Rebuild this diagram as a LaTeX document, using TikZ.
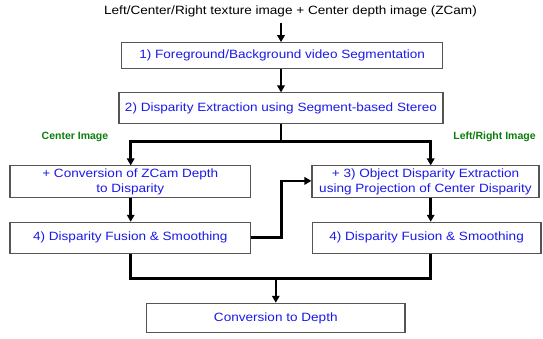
\documentclass[tikz,border=0pt]{standalone}
\usepackage{fontspec}
\setmainfont{Liberation Sans}
\newfontfamily\wfont[FakeStretch=1.13]{Liberation Sans}
\usetikzlibrary{arrows.meta,calc}
\definecolor{txtblue}{RGB}{25,25,235}
\definecolor{lblgreen}{RGB}{10,125,10}
\definecolor{frame}{RGB}{85,85,85}
\tikzset{
  stage/.style={draw=frame, line width=1.1pt, rectangle, inner sep=0pt,
    text=txtblue, font=\wfont\fontsize{12}{15.7}\selectfont, align=center},
  flow/.style={line width=2.6pt, line join=miter,
    -{Triangle[width=7.5pt,length=7pt]}},
  plainflow/.style={line width=2.6pt, line join=miter},
  sidelabel/.style={text=lblgreen, font=\bfseries\fontsize{10.5}{12}\selectfont, inner sep=0pt}
}
\begin{document}
\begin{tikzpicture}[x=1pt,y=-1pt]
\useasboundingbox (0,0) rectangle (543,339);

% input description
\node[font=\wfont\fontsize{12}{14}\selectfont, inner sep=0pt] (title) at (290.5,11)
  {Left/Center/Right texture image + Center depth image (ZCam)};

% processing stages
\node[stage, minimum width=321pt, minimum height=25.6pt] (seg) at (282.2,55.5)
  {1) Foreground/Background video Segmentation};
\node[stage, minimum width=324pt, minimum height=30.5pt] (disp) at (281,108.2)
  {2) Disparity Extraction using Segment-based Stereo};
\node[stage, minimum width=240.7pt, minimum height=31.7pt] (conv) at (130.3,181.8)
  {+ Conversion of ZCam Depth\\to Disparity};
\node[stage, minimum width=227pt, minimum height=31.7pt] (obj) at (425.5,181.8)
  {+ 3) Object Disparity Extraction\\using Projection of Center Disparity};
\node[stage, minimum width=240.7pt, minimum height=31pt] (fuseC) at (130.3,237.8)
  {4) Disparity Fusion \& Smoothing};
\node[stage, minimum width=228.7pt, minimum height=31pt] (fuseLR) at (426.6,237.8)
  {4) Disparity Fusion \& Smoothing};
\node[stage, minimum width=258.3pt, minimum height=29.4pt] (depth) at (275.8,318)
  {Conversion to Depth};

% branch labels
\node[sidelabel] (lc) at (75,137) {Center Image};
\node[sidelabel] (lr) at (494.5,137) {Left/Right Image};

% junction points
\coordinate (top) at (281,23);
\coordinate (split) at (281,141.5);
\coordinate (colC) at (130.7,0);
\coordinate (colR) at (430.7,0);
\coordinate (cross) at (281.7,0);
\coordinate (merge) at (0,278.3);

% connectors
\draw[flow] (top) -- (top |- seg.north);
\draw[flow] (seg.south -| top) -- (disp.north -| top);
\draw[plainflow] (disp.south -| split) -- (split);
\draw[flow] (split) -- (split -| colC) -- (conv.north -| colC);
\draw[flow] (split) -- (split -| colR) -- (obj.north -| colR);
\draw[flow] (conv.south -| colC) -- (fuseC.north -| colC);
\draw[flow] (obj.south -| colR) -- (fuseLR.north -| colR);
\draw[flow] ([yshift=0.5pt]fuseC.east) -- ([yshift=0.5pt]fuseC.east -| cross)
  -- ([yshift=0.9pt]obj.west -| cross) -- ([yshift=0.9pt]obj.west);
\draw[plainflow] (fuseC.south -| colC) -- (merge -| colC) -- (merge -| colR) -- (fuseLR.south -| colR);
\draw[flow] (merge -| depth) -- (depth.north);
\end{tikzpicture}
\end{document}
